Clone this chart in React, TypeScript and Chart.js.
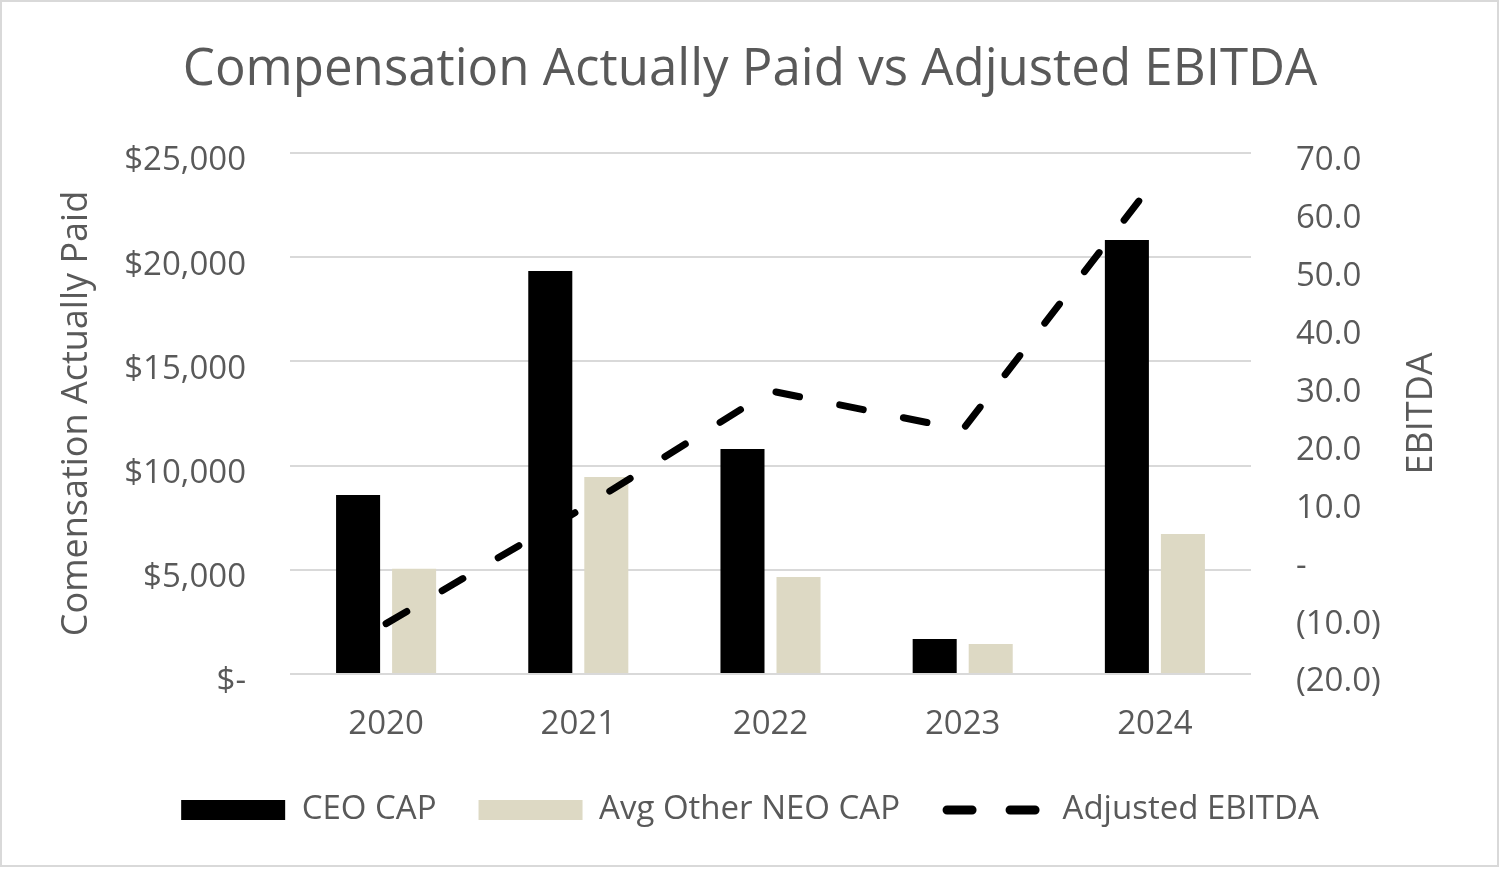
import React, { useEffect, useRef } from 'react';
import { Chart, registerables } from 'chart.js';

Chart.register(...registerables);

const years = ['2020', '2021', '2022', '2023', '2024'];
const ceoCap = [8590, 19340, 10800, 1680, 20830];
const neoCap = [5050, 9450, 4650, 1440, 6720];
const adjEbitda = [-11.3, 8.2, 28.9, 22.2, 65.3];

const leftTitle = 'Comensation Actually Paid';
const rightTitle = 'EBITDA';
const chartTitle = 'Compensation Actually Paid vs Adjusted EBITDA';
const seriesNames = ['CEO CAP', 'Avg Other NEO CAP', 'Adjusted EBITDA'];

const FONT = '"Open Sans", "DejaVu Sans", sans-serif';
const TEXT = '#595959';
const GRID = '#D9D9D9';

const framePlugin = {
  id: 'frame',
  beforeDraw(chart: any) {
    const { ctx, width, height } = chart;
    ctx.save();
    ctx.fillStyle = '#ffffff';
    ctx.fillRect(0, 0, width, height);
    ctx.restore();
  },
  afterDraw(chart: any) {
    const { ctx, chartArea } = chart;
    ctx.save();
    ctx.strokeStyle = GRID;
    ctx.lineWidth = 2;
    ctx.strokeRect(1, 1, 1497, 865);
    ctx.translate(1422, (chartArea.top + chartArea.bottom) / 2);
    ctx.rotate(-Math.PI / 2);
    ctx.font = `36px ${FONT}`;
    ctx.fillStyle = TEXT;
    ctx.textAlign = 'center';
    ctx.textBaseline = 'middle';
    ctx.fillText(rightTitle, 0, 0);
    ctx.restore();
  },
};

export default function App() {
  const ref = useRef<HTMLCanvasElement>(null);

  useEffect(() => {
    document.body.style.margin = '0';
    const canvas = ref.current;
    if (!canvas) return;
    Chart.defaults.font.family = FONT;
    Chart.defaults.color = TEXT;

    const chart = new Chart(canvas, {
      type: 'bar',
      data: {
        labels: years,
        datasets: [
          {
            type: 'bar',
            label: seriesNames[0],
            data: ceoCap,
            backgroundColor: '#000000',
            borderWidth: 0,
            categoryPercentage: 0.583,
            barPercentage: 0.786,
            yAxisID: 'y',
            order: 1,
          },
          {
            type: 'bar',
            label: seriesNames[1],
            data: neoCap,
            backgroundColor: '#DDD9C4',
            borderWidth: 0,
            categoryPercentage: 0.583,
            barPercentage: 0.786,
            yAxisID: 'y',
            order: 1,
          },
          {
            type: 'line',
            label: seriesNames[2],
            data: adjEbitda,
            borderColor: '#000000',
            backgroundColor: '#000000',
            borderWidth: 7,
            borderDash: [24, 41],
            borderCapStyle: 'round',
            borderJoinStyle: 'round',
            pointRadius: 0,
            tension: 0,
            fill: false,
            yAxisID: 'y1',
            order: 0,
          } as any,
        ],
      },
      options: {
        responsive: false,
        animation: false,
        devicePixelRatio: 1,
        layout: { padding: { left: 0, right: 0, top: 0, bottom: 32.5 } },
        plugins: {
          title: {
            display: true,
            text: chartTitle,
            color: TEXT,
            font: { size: 51, weight: 'normal', family: FONT },
            padding: { top: 40, bottom: 51.8 },
          },
          legend: {
            position: 'bottom',
            labels: {
              color: TEXT,
              font: { size: 33, family: FONT },
              usePointStyle: true,
              pointStyleWidth: 104,
              boxHeight: 20,
              padding: 42,
              sort: (a: any, b: any) => a.datasetIndex - b.datasetIndex,
              generateLabels: (chart: any) => {
                const items = Chart.defaults.plugins.legend.labels.generateLabels(chart);
                return items.map((it: any) => {
                  if (it.datasetIndex === 2) {
                    return {
                      ...it,
                      pointStyle: 'line',
                      lineWidth: 9,
                      lineDash: [25, 38],
                      lineDashOffset: 58,
                      lineCap: 'round',
                      strokeStyle: '#000000',
                    };
                  }
                  return { ...it, pointStyle: 'rect', lineWidth: 0 };
                });
              },
            },
          },
          tooltip: { enabled: false },
        },
        scales: {
          x: {
            grid: { display: false },
            border: { display: false },
            ticks: { color: TEXT, font: { size: 33 }, padding: 23 },
            afterFit: (s: any) => {
              s.height = 77.5;
            },
          },
          y: {
            position: 'left',
            min: 0,
            max: 25000,
            grid: { color: GRID, lineWidth: 2, drawTicks: false },
            border: { display: false },
            ticks: {
              stepSize: 5000,
              color: TEXT,
              font: { size: 33 },
              padding: 44,
              labelOffset: 8,
              callback: (v: any) => (v === 0 ? '$-' : '$' + Number(v).toLocaleString('en-US')),
            },
            title: {
              display: true,
              text: leftTitle,
              color: TEXT,
              font: { size: 36, family: FONT },
              padding: { top: 55, bottom: 0 },
            },
            afterFit: (s: any) => {
              s.width = 290;
            },
          },
          y1: {
            position: 'right',
            min: -20,
            max: 70,
            grid: { display: false, drawTicks: false },
            border: { display: false },
            ticks: {
              stepSize: 10,
              color: TEXT,
              font: { size: 33 },
              padding: 45,
              labelOffset: 8,
              callback: (v: any) => {
                const n = Number(v);
                if (n === 0) return '-';
                if (n < 0) return `(${Math.abs(n).toFixed(1)})`;
                return n.toFixed(1);
              },
            },
            afterFit: (s: any) => {
              s.width = 249;
            },
          },
        },
      },
      plugins: [framePlugin],
    });

    return () => chart.destroy();
  }, []);

  return (
    <div style={{ width: 1500, height: 869, position: 'relative' }}>
      <canvas ref={ref} width={1500} height={869} style={{ display: 'block' }} />
    </div>
  );
}
